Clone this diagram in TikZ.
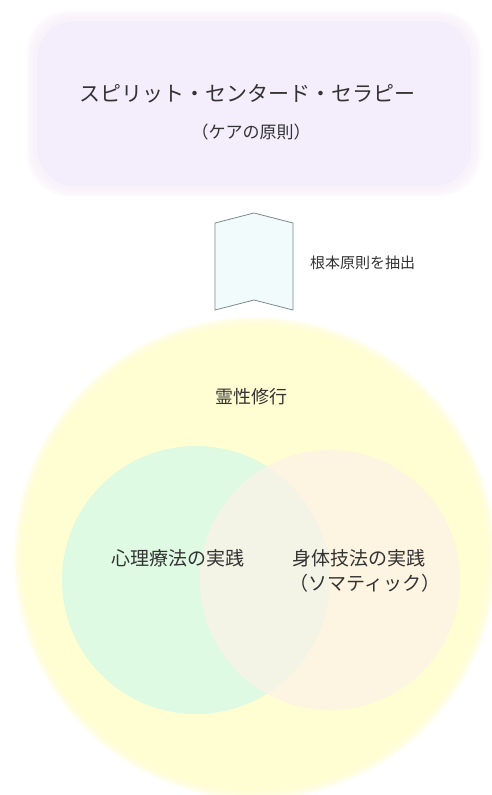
\documentclass[tikz,border=0pt]{standalone}
\usepackage{fontspec}
\setmainfont{Noto Sans CJK JP}
\definecolor{lav}{HTML}{F4EEFC}
\definecolor{lavedge}{HTML}{F9F0FB}
\definecolor{outery}{HTML}{FFFDD2}
\definecolor{greenc}{HTML}{DFFAE3}
\definecolor{creamc}{HTML}{FDF5E1}
\definecolor{interc}{HTML}{F4F4E6}
\definecolor{bannerfill}{HTML}{F1FBFC}
\definecolor{bannerdraw}{HTML}{7A8A90}
\definecolor{txt}{HTML}{333333}
\tikzset{
  lbl/.style={text=txt, inner sep=0pt, align=center},
}
\begin{document}
\begin{tikzpicture}[x=1pt,y=-1pt]
\useasboundingbox (0,0) rectangle (491,795);
\fill[white] (0,0) rectangle (491,795);
% top soft box
\foreach \e in {6,4,2,0}{
  \fill[lavedge, opacity=0.3, rounded corners=42] (33-\e,17-\e) rectangle (475+\e,190+\e);
}
\fill[lav, rounded corners=38] (37,21) rectangle (471,186);
\node[lbl, font=\fontsize{21}{25}\selectfont] (title) at (247,94) {スピリット・センタード・セラピー};
\node[lbl, font=\fontsize{17}{20}\selectfont] (sub) at (251,132) {（ケアの原則）};
% banner arrow
\coordinate (btl) at (215,223);
\coordinate (btp) at (254,213);
\coordinate (btr) at (293,223);
\coordinate (bbr) at (293,310);
\coordinate (bbn) at (254,300);
\coordinate (bbl) at (215,310);
\filldraw[fill=bannerfill, draw=bannerdraw, line width=0.8pt, line join=miter]
  (btl) -- (btp) -- (btr) -- (bbr) -- (bbn) -- (bbl) -- cycle;
\node[lbl, font=\fontsize{15}{18}\selectfont, anchor=west] (extract) at (310,263) {根本原則を抽出};
% outer circle
\coordinate (oc) at (255,558);
\foreach \e in {6,4,2,0}{
  \fill[outery, opacity=0.35] (oc) circle ({235+\e});
}
\fill[outery] (oc) circle (233);
% inner circles
\coordinate (gc) at (196,580);
\coordinate (cc) at (330,580);
\fill[greenc] (gc) circle (134);
\fill[creamc] (cc) circle (130);
\begin{scope}
  \clip (gc) circle (134);
  \fill[interc] (cc) circle (130);
\end{scope}
\node[lbl, font=\fontsize{18}{22}\selectfont] (spirit) at (251,397) {霊性修行};
\node[lbl, font=\fontsize{19}{23}\selectfont] (psy) at (178,558) {心理療法の実践};
\node[lbl, font=\fontsize{19}{23}\selectfont] (body) at (359,558) {身体技法の実践};
\node[lbl, font=\fontsize{19}{23}\selectfont] (soma) at (365,583) {（ソマティック）};
\end{tikzpicture}
\end{document}
